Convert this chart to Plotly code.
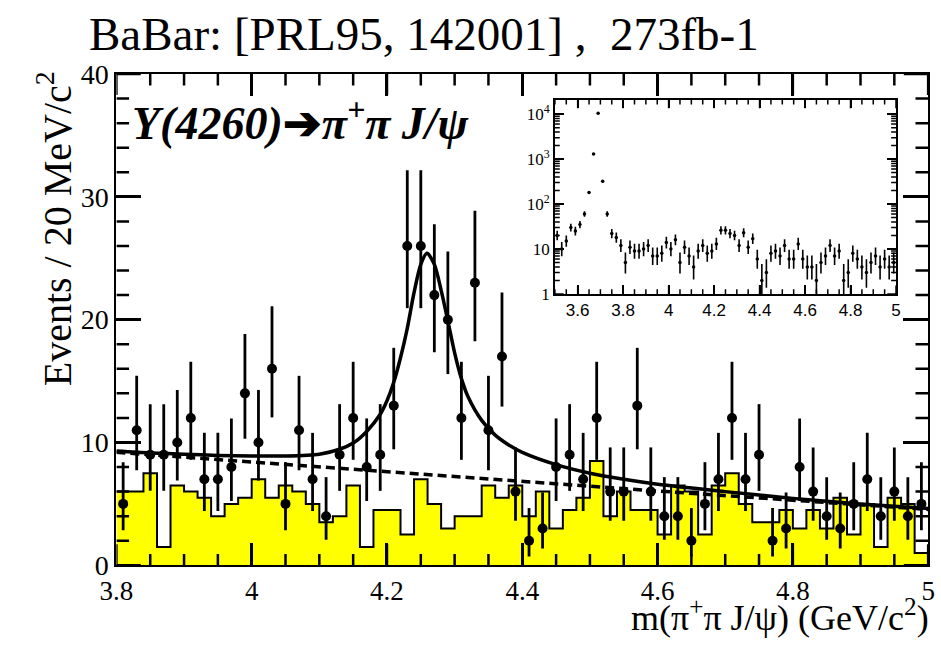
import numpy as np
import plotly.graph_objects as go

# ---------------- data ----------------
MASS = [3.81, 3.83, 3.85, 3.87, 3.89, 3.91, 3.93, 3.95, 3.97, 3.99,
        4.01, 4.03, 4.05, 4.07, 4.09, 4.11, 4.13, 4.15, 4.17, 4.19,
        4.21, 4.23, 4.25, 4.27, 4.29, 4.31, 4.33, 4.35, 4.37, 4.39,
        4.41, 4.43, 4.45, 4.47, 4.49, 4.51, 4.53, 4.55, 4.57, 4.59,
        4.61, 4.63, 4.65, 4.67, 4.69, 4.71, 4.73, 4.75, 4.77, 4.79,
        4.81, 4.83, 4.85, 4.87, 4.89, 4.91, 4.93, 4.95, 4.97, 4.99]

EVENTS = [5, 11, 9, 9, 10, 12, 7, 7, 8, 14,
          10, 16, 5, 11, 7, 4, 9, 12, 8, 9,
          13, 26, 26, 22, 20, 12, 23, 11, 17, 6,
          2, 3, 8, 9, 7, 12, 6, 6, 13, 6,
          4, 4, 2, 5, 7, 12, 7, 9, 2, 3,
          8, 6, 4, 3, 5, 7, 4, 6, 4, 5]

SIDEBAND = [6.0, 6.0, 7.5, 1.5, 6.5, 6.0, 5.5, 4.0, 5.0, 5.5,
            7.0, 5.5, 6.5, 6.0, 5.0, 3.5, 4.0, 6.5, 1.5, 4.5,
            4.5, 2.5, 7.0, 5.0, 3.0, 4.0, 4.0, 6.5, 5.5, 6.5,
            4.0, 6.0, 3.0, 4.5, 5.5, 8.5, 4.0, 6.0, 4.5, 4.5,
            2.5, 6.5, 6.0, 2.5, 6.5, 7.5, 5.0, 3.5, 3.5, 4.5,
            3.0, 4.5, 3.0, 5.5, 2.5, 5.0, 1.5, 5.5, 5.0, 1.0]

BIN_WIDTH = 0.02

# inset: extra low-mass bins (psi(2S) region)
INSET_MASS_LOW = [3.51, 3.53, 3.55, 3.57, 3.59, 3.61, 3.63, 3.65, 3.67, 3.69,
                  3.71, 3.73, 3.75, 3.77, 3.79]
INSET_EVENTS_LOW = [20, 10, 15, 30, 25, 35, 60, 180, 1300, 10500,
                    320, 60, 22, 18, 12]

# fit curves
FIT_MASS = [3.80, 3.85, 3.90, 3.95, 4.00, 4.05, 4.10, 4.13, 4.15, 4.17,
            4.19, 4.20, 4.21, 4.22, 4.23, 4.24, 4.25, 4.259, 4.27, 4.28,
            4.29, 4.30, 4.31, 4.32, 4.34, 4.36, 4.38, 4.40, 4.45, 4.50,
            4.55, 4.60, 4.70, 4.80, 4.90, 5.00]
FIT_TOTAL = [9.30, 9.15, 9.05, 8.95, 8.90, 8.90, 9.05, 9.45, 9.95, 10.9,
             12.3, 13.4, 14.9, 16.9, 19.3, 22.2, 24.5, 25.4, 24.5, 22.4,
             19.9, 17.3, 15.2, 13.7, 11.8, 10.6, 9.8, 9.2, 8.2, 7.5,
             7.0, 6.6, 6.0, 5.45, 5.0, 4.62]
BG_MASS = [3.80, 4.00, 4.20, 4.40, 4.60, 4.80, 5.00]
BG_FIT = [9.2, 8.4, 7.6, 6.8, 6.05, 5.3, 4.55]

# axis ranges and tick positions
MAIN_XR = [3.8, 5.0]
MAIN_YR = [0, 40]
INSET_XR = [3.5, 5.0]
INSET_YR_LOG = [0, 4.32]
MAIN_X_MAJOR = [3.8, 4.0, 4.2, 4.4, 4.6, 4.8, 5.0]
MAIN_X_TEXT = ["3.8", "4", "4.2", "4.4", "4.6", "4.8", "5"]
MAIN_Y_MAJOR = [0, 10, 20, 30, 40]
INSET_X_MAJOR = [3.6, 3.8, 4.0, 4.2, 4.4, 4.6, 4.8, 5.0]
INSET_X_TEXT = ["3.6", "3.8", "4", "4.2", "4.4", "4.6", "4.8", "5"]
INSET_Y_MAJOR = [1, 10, 100, 1000, 10000]
INSET_Y_TEXT = ["1", "10", "10<sup>2</sup>", "10<sup>3</sup>", "10<sup>4</sup>"]

TITLE = "BaBar: [PRL95, 142001] ,\u00a0\u00a0273fb-1"
DECAY = "<b><i>Y(4260)</i></b><b>\u2794</b><b><i>\u03c0<sup>+</sup>\u03c0 J/\u03c8</i></b>"
YTITLE = "Events / 20 MeV/c<sup>2</sup>"
XTITLE = "m(\u03c0<sup>+</sup>\u03c0 J/\u03c8) (GeV/c<sup>2</sup>)"


def poisson_errors(counts):
    n = np.asarray(counts, dtype=float)
    up = np.sqrt(n + 0.75) + 1.0
    low = n - n * (1.0 - 1.0 / (9.0 * n) - 1.0 / (3.0 * np.sqrt(n))) ** 3
    return up, low


W, H = 941, 647
SERIF = "Liberation Serif, Times New Roman, serif"
SANS = "Liberation Sans, Arial, sans-serif"

# plot-area geometry (pixels)
MAIN_L, MAIN_R, MAIN_T, MAIN_B = 102, 935, 62, 578
INS_L, INS_R, INS_T, INS_B = 552, 902, 89, 293

fig = go.Figure()

# sideband histogram (filled, step)
edges = [m - BIN_WIDTH / 2 for m in MASS] + [MASS[-1] + BIN_WIDTH / 2]
hist_y = SIDEBAND + [SIDEBAND[-1]]
fig.add_trace(go.Scatter(x=edges, y=hist_y, mode="lines", line_shape="hv",
                         line=dict(color="black", width=2),
                         fill="tozeroy", fillcolor="#ffff00",
                         hoverinfo="skip", showlegend=False,
                         xaxis="x", yaxis="y"))

# background (dashed) and total fit
fig.add_trace(go.Scatter(x=BG_MASS, y=BG_FIT, mode="lines",
                         line=dict(color="black", width=3.5, dash="9px,5px"),
                         showlegend=False, xaxis="x", yaxis="y"))
fig.add_trace(go.Scatter(x=FIT_MASS, y=FIT_TOTAL, mode="lines",
                         line=dict(color="black", width=3.5, shape="spline", smoothing=0.8),
                         showlegend=False, xaxis="x", yaxis="y"))

# data points
up, low = poisson_errors(EVENTS)
fig.add_trace(go.Scatter(x=MASS, y=EVENTS, mode="markers",
                         marker=dict(color="black", size=10),
                         error_y=dict(type="data", symmetric=False, array=up, arrayminus=low,
                                      color="black", thickness=2.8, width=0),
                         showlegend=False, xaxis="x", yaxis="y"))

# inset data
inset_mass = INSET_MASS_LOW + MASS
inset_events = INSET_EVENTS_LOW + EVENTS
iup, ilow = poisson_errors(inset_events)
fig.add_trace(go.Scatter(x=inset_mass, y=inset_events, mode="markers",
                         marker=dict(color="black", size=3.5),
                         error_y=dict(type="data", symmetric=False, array=iup, arrayminus=ilow,
                                      color="black", thickness=1.6, width=0),
                         error_x=dict(type="constant", value=0.004, color="black",
                                      thickness=1.2, width=0),
                         showlegend=False, xaxis="x2", yaxis="y2"))


# ---------------- ROOT-style inner minor/major tick marks ----------------
def tick_trace(xs, ys, width, xa, ya):
    return go.Scatter(x=xs, y=ys, mode="lines", line=dict(color="black", width=width),
                      connectgaps=False, hoverinfo="skip", showlegend=False,
                      xaxis=xa, yaxis=ya)


def vertical_ticks(vals, y_lo, y_hi, len_lo, len_hi):
    xs, ys = [], []
    for v in vals:
        xs += [float(v), float(v), None, float(v), float(v), None]
        ys += [y_lo, len_lo, None, y_hi, len_hi, None]
    return xs, ys


def horizontal_ticks(vals, x_lo, x_hi, len_lo, len_hi):
    xs, ys = [], []
    for v in vals:
        xs += [x_lo, len_lo, None, x_hi, len_hi, None]
        ys += [float(v), float(v), None, float(v), float(v), None]
    return xs, ys


main_x_minor = [v for v in np.round(np.arange(3.8, 5.0001, 0.05), 2) if v not in MAIN_X_MAJOR]
main_y_minor = [v for v in range(0, 41, 2) if v not in MAIN_Y_MAJOR]
ins_x_minor = [v for v in np.round(np.arange(3.5, 5.0001, 0.05), 2) if v not in INSET_X_MAJOR]
ins_y_minor = [d * 10 ** e for e in range(0, 5) for d in range(2, 10) if d * 10 ** e < 20000]

# pixel -> data conversion factors for tick lengths
mx = (MAIN_XR[1] - MAIN_XR[0]) / (MAIN_R - MAIN_L)
my = (MAIN_YR[1] - MAIN_YR[0]) / (MAIN_B - MAIN_T)
ix = (INSET_XR[1] - INSET_XR[0]) / (INS_R - INS_L)
iy = (INSET_YR_LOG[1] - INSET_YR_LOG[0]) / (INS_B - INS_T)

for vals, L in ((MAIN_X_MAJOR, 22), (main_x_minor, 12)):
    xs, ys = vertical_ticks(vals, MAIN_YR[0], MAIN_YR[1], MAIN_YR[0] + L * my, MAIN_YR[1] - L * my)
    fig.add_trace(tick_trace(xs, ys, 2.5, "x", "y"))
for vals, L in ((MAIN_Y_MAJOR, 25), (main_y_minor, 13)):
    xs, ys = horizontal_ticks(vals, MAIN_XR[0], MAIN_XR[1], MAIN_XR[0] + L * mx, MAIN_XR[1] - L * mx)
    fig.add_trace(tick_trace(xs, ys, 2.5, "x", "y"))
for vals, L in ((INSET_X_MAJOR, 9), (ins_x_minor, 5)):
    xs, ys = vertical_ticks(vals, 10 ** INSET_YR_LOG[0], 10 ** INSET_YR_LOG[1],
                            10 ** (INSET_YR_LOG[0] + L * iy), 10 ** (INSET_YR_LOG[1] - L * iy))
    fig.add_trace(tick_trace(xs, ys, 1.5, "x2", "y2"))
for vals, L in ((INSET_Y_MAJOR, 9), (ins_y_minor, 5)):
    xs, ys = horizontal_ticks(vals, INSET_XR[0], INSET_XR[1], INSET_XR[0] + L * ix, INSET_XR[1] - L * ix)
    fig.add_trace(tick_trace(xs, ys, 1.5, "x2", "y2"))

fig.update_layout(
    width=W, height=H,
    margin=dict(l=0, r=0, t=0, b=0),
    paper_bgcolor="white", plot_bgcolor="white",
    xaxis=dict(domain=[MAIN_L / W, MAIN_R / W], range=MAIN_XR, anchor="y",
               tickmode="array", tickvals=MAIN_X_MAJOR, ticktext=MAIN_X_TEXT,
               ticks="inside", ticklen=22, tickwidth=2.5, tickcolor="black",
               showline=True, linecolor="black", linewidth=2, mirror="ticks",
               showgrid=False, zeroline=False,
               tickfont=dict(family=SERIF, size=27, color="black")),
    yaxis=dict(domain=[(H - MAIN_B) / H, (H - MAIN_T) / H], range=MAIN_YR, anchor="x",
               tickmode="array", tickvals=MAIN_Y_MAJOR,
               ticks="inside", ticklen=25, tickwidth=2.5, tickcolor="black",
               showline=True, linecolor="black", linewidth=2, mirror="ticks",
               showgrid=False, zeroline=False,
               tickfont=dict(family=SERIF, size=28, color="black")),
    xaxis2=dict(domain=[INS_L / W, INS_R / W], range=INSET_XR, anchor="y2",
                tickmode="array", tickvals=INSET_X_MAJOR, ticktext=INSET_X_TEXT,
                ticks="inside", ticklen=9, tickwidth=1.5, tickcolor="black",
                showline=True, linecolor="black", linewidth=1.5, mirror="ticks",
                showgrid=False, zeroline=False,
                tickfont=dict(family=SANS, size=17, color="black")),
    yaxis2=dict(domain=[(H - INS_B) / H, (H - INS_T) / H], type="log", range=INSET_YR_LOG,
                anchor="x2", tickmode="array", tickvals=INSET_Y_MAJOR, ticktext=INSET_Y_TEXT,
                ticks="inside", ticklen=9, tickwidth=1.5, tickcolor="black",
                showline=True, linecolor="black", linewidth=1.5, mirror="ticks",
                showgrid=False, zeroline=False,
                tickfont=dict(family=SERIF, size=17, color="black")),
    annotations=[
        dict(text=TITLE, x=72 / W, y=1 - 20 / H, xref="paper", yref="paper",
             xanchor="left", yanchor="middle", showarrow=False,
             font=dict(family=SERIF, size=47, color="black")),
        dict(text=DECAY, x=116 / W, y=1 - 110 / H, xref="paper", yref="paper",
             xanchor="left", yanchor="middle", showarrow=False,
             font=dict(family=SERIF, size=46, color="black")),
        dict(text=YTITLE, x=38 / W, y=1 - 225 / H, xref="paper", yref="paper",
             xanchor="center", yanchor="middle", textangle=-90, showarrow=False,
             font=dict(family=SERIF, size=40, color="black")),
        dict(text=XTITLE, x=938 / W, y=1 - 631 / H, xref="paper", yref="paper",
             xanchor="right", yanchor="middle", showarrow=False,
             font=dict(family=SERIF, size=36, color="black")),
    ],
)

fig.write_html("out.html")
